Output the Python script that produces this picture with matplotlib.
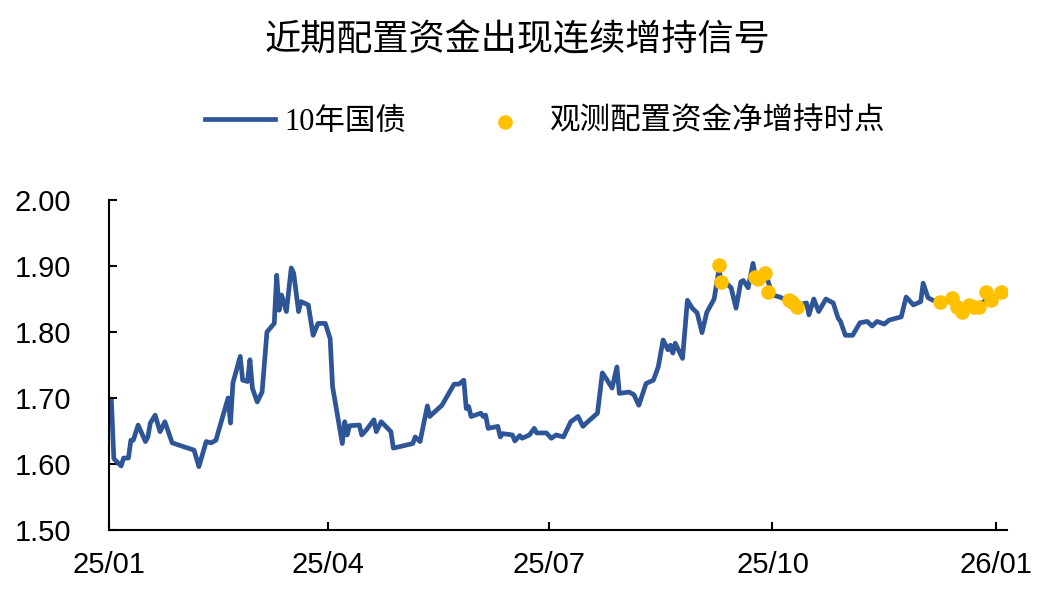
import pandas as pd
import matplotlib.pyplot as plt
import matplotlib.dates as mdates
from matplotlib.ticker import MultipleLocator, FormatStrFormatter

plt.rcParams['font.family'] = ['Liberation Sans', 'Noto Sans CJK SC']

# 10y government bond yield
bond_dates = [
    "2025-01-02", "2025-01-03", "2025-01-06", "2025-01-07", "2025-01-09", "2025-01-10",
    "2025-01-11", "2025-01-13", "2025-01-16", "2025-01-17", "2025-01-18", "2025-01-20",
    "2025-01-22", "2025-01-24", "2025-01-27", "2025-02-05", "2025-02-07", "2025-02-10",
    "2025-02-12", "2025-02-14", "2025-02-19", "2025-02-20", "2025-02-21", "2025-02-24",
    "2025-02-25", "2025-02-27", "2025-02-28", "2025-03-01", "2025-03-03", "2025-03-05",
    "2025-03-07", "2025-03-10", "2025-03-11", "2025-03-12", "2025-03-13", "2025-03-15",
    "2025-03-17", "2025-03-18", "2025-03-20", "2025-03-21", "2025-03-24", "2025-03-26",
    "2025-03-28", "2025-03-31", "2025-04-02", "2025-04-03", "2025-04-07", "2025-04-08",
    "2025-04-09", "2025-04-10", "2025-04-14", "2025-04-15", "2025-04-17", "2025-04-20",
    "2025-04-21", "2025-04-23", "2025-04-27", "2025-04-28", "2025-05-06", "2025-05-07",
    "2025-05-09", "2025-05-12", "2025-05-13", "2025-05-15", "2025-05-18", "2025-05-23",
    "2025-05-25", "2025-05-27", "2025-05-28", "2025-05-29", "2025-05-30", "2025-06-03",
    "2025-06-04", "2025-06-05", "2025-06-06", "2025-06-10", "2025-06-11", "2025-06-12",
    "2025-06-16", "2025-06-17", "2025-06-19", "2025-06-20", "2025-06-23", "2025-06-25",
    "2025-06-26", "2025-06-30", "2025-07-02", "2025-07-04", "2025-07-07", "2025-07-10",
    "2025-07-13", "2025-07-15", "2025-07-17", "2025-07-21", "2025-07-23", "2025-07-25",
    "2025-07-27", "2025-07-29", "2025-07-30", "2025-08-03", "2025-08-05", "2025-08-07",
    "2025-08-10", "2025-08-13", "2025-08-15", "2025-08-17", "2025-08-19", "2025-08-20",
    "2025-08-21", "2025-08-22", "2025-08-25", "2025-08-27", "2025-08-29", "2025-08-31",
    "2025-09-02", "2025-09-04", "2025-09-07", "2025-09-09", "2025-09-10", "2025-09-12",
    "2025-09-14", "2025-09-16", "2025-09-18", "2025-09-19", "2025-09-21", "2025-09-23",
    "2025-09-24", "2025-09-27", "2025-09-29", "2025-10-01", "2025-10-04", "2025-10-07",
    "2025-10-12", "2025-10-15", "2025-10-16", "2025-10-18", "2025-10-20", "2025-10-23",
    "2025-10-26", "2025-10-28", "2025-10-29", "2025-10-31", "2025-11-03", "2025-11-06",
    "2025-11-09", "2025-11-11", "2025-11-13", "2025-11-16", "2025-11-18", "2025-11-23",
    "2025-11-25", "2025-11-28", "2025-12-01", "2025-12-02", "2025-12-04", "2025-12-06",
    "2025-12-10", "2025-12-15", "2025-12-19", "2025-12-24", "2025-12-29", "2025-12-31",
    "2026-01-03",
]
bond_yield = [
    1.695, 1.608, 1.597, 1.609, 1.609, 1.636,
    1.636, 1.659, 1.634, 1.641, 1.662, 1.674,
    1.649, 1.664, 1.632, 1.621, 1.596, 1.634,
    1.632, 1.636, 1.700, 1.662, 1.723, 1.763,
    1.727, 1.725, 1.758, 1.715, 1.694, 1.709,
    1.800, 1.813, 1.886, 1.833, 1.856, 1.831,
    1.897, 1.889, 1.831, 1.846, 1.841, 1.795,
    1.813, 1.813, 1.790, 1.717, 1.631, 1.664,
    1.644, 1.658, 1.659, 1.644, 1.652, 1.667,
    1.649, 1.664, 1.649, 1.624, 1.631, 1.641,
    1.634, 1.688, 1.672, 1.679, 1.689, 1.721,
    1.721, 1.727, 1.684, 1.687, 1.672, 1.677,
    1.672, 1.674, 1.654, 1.657, 1.641, 1.646,
    1.644, 1.635, 1.643, 1.639, 1.644, 1.654,
    1.647, 1.647, 1.639, 1.644, 1.641, 1.664,
    1.672, 1.657, 1.664, 1.677, 1.738, 1.727,
    1.715, 1.747, 1.707, 1.709, 1.705, 1.689,
    1.722, 1.727, 1.747, 1.788, 1.773, 1.780,
    1.768, 1.783, 1.760, 1.848, 1.836, 1.829,
    1.799, 1.830, 1.850, 1.895, 1.874, 1.874,
    1.867, 1.836, 1.876, 1.878, 1.867, 1.904,
    1.884, 1.884, 1.879, 1.856, 1.853, 1.848,
    1.841, 1.844, 1.826, 1.850, 1.831, 1.850,
    1.844, 1.821, 1.816, 1.795, 1.795, 1.814,
    1.816, 1.809, 1.816, 1.812, 1.818, 1.823,
    1.853, 1.841, 1.846, 1.874, 1.852, 1.848,
    1.846, 1.848, 1.838, 1.840, 1.850, 1.852,
    1.855,
]

# observed net buying by allocation funds
signal_dates = [
    "2025-09-09", "2025-09-10", "2025-09-24", "2025-09-25", "2025-09-28", "2025-09-29",
    "2025-10-08", "2025-10-09", "2025-10-11", "2025-12-09", "2025-12-14", "2025-12-16",
    "2025-12-18", "2025-12-21", "2025-12-23", "2025-12-25", "2025-12-28", "2025-12-30",
    "2026-01-03",
]
signal_yield = [
    1.901, 1.876, 1.884, 1.880, 1.889, 1.861,
    1.848, 1.846, 1.838, 1.846, 1.851, 1.838,
    1.831, 1.841, 1.838, 1.838, 1.861, 1.848,
    1.860,
]

bond = pd.DataFrame({"date": pd.to_datetime(bond_dates), "yield": bond_yield})
signal = pd.DataFrame({"date": pd.to_datetime(signal_dates), "yield": signal_yield})

fig = plt.figure(figsize=(10.54, 6.02), dpi=100)
ax = fig.add_axes([0.1034, 0.1196, 0.852, 0.5482])

ax.plot(bond["date"], bond["yield"], color="#2E5597", linewidth=3.4,
        solid_joinstyle="round", label="10年国债", zorder=2)
ax.scatter(signal["date"], signal["yield"], s=110, color="#FFC000",
           linewidths=0, label="观测配置资金净增持时点", zorder=3)

ax.set_ylim(1.5, 2.0)
ax.yaxis.set_major_locator(MultipleLocator(0.1))
ax.yaxis.set_major_formatter(FormatStrFormatter("%.2f"))
start = pd.Timestamp("2025-01-01")
ax.set_xlim(start, start + pd.Timedelta(days=369.5))
ax.set_xticks(pd.to_datetime(["2025-01-01", "2025-04-01", "2025-07-01",
                              "2025-10-01", "2026-01-01"]))
ax.xaxis.set_major_formatter(mdates.DateFormatter("%y/%m"))

for side in ["top", "right"]:
    ax.spines[side].set_visible(False)
for side in ["left", "bottom"]:
    ax.spines[side].set_linewidth(1.5)
ax.tick_params(axis="y", direction="in", length=6, width=1.5, labelsize=21, pad=27)
ax.tick_params(axis="x", direction="in", length=6, width=1.5, labelsize=21, pad=15)

fig.text(0.491, 0.933, "近期配置资金出现连续增持信号", ha="center", va="center",
         fontsize=26, family=["Noto Sans CJK SC"])

fig.legend(loc="center", bbox_to_anchor=(0.517, 0.797), ncol=2, frameon=False,
           prop={"family": ["Liberation Serif", "Noto Sans CJK SC"], "size": 22},
           handlelength=2.3, handletextpad=0.3, columnspacing=2.1, scatterpoints=1)

fig.savefig("out.png", dpi=100)
